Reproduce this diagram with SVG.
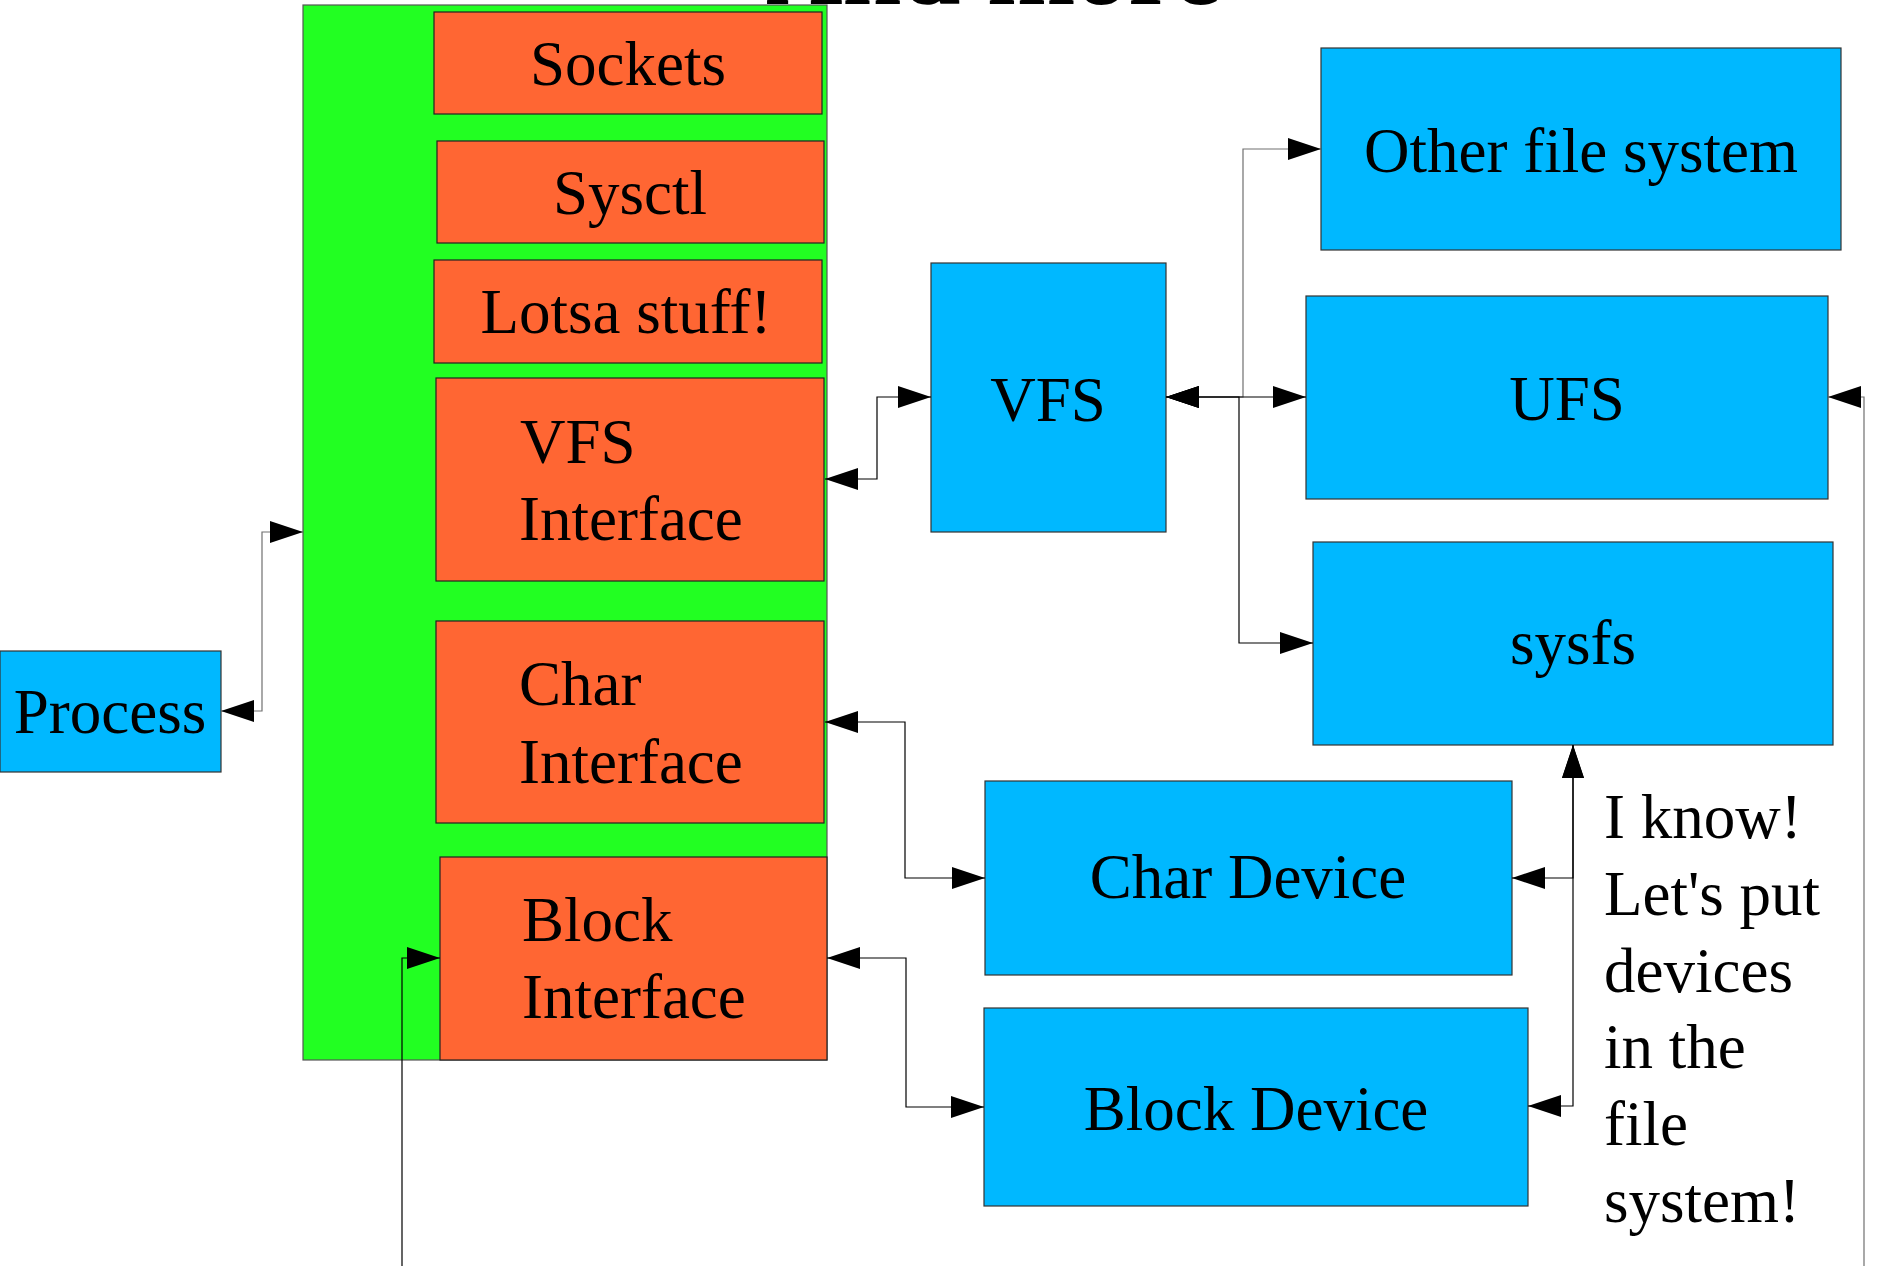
<svg xmlns="http://www.w3.org/2000/svg" width="1878" height="1266" viewBox="0 0 1878 1266">
<style>
  .bg { fill: #ffffff; }
  .green { fill: #22ff22; stroke: #555555; stroke-width: 1.2; }
  .orange { fill: #ff6633; stroke: #222222; stroke-width: 1.2; }
  .blue { fill: #00b8ff; stroke: #333333; stroke-width: 1.2; }
  .t { font-family: "Liberation Serif", "Times New Roman", serif; font-size: 63px; fill: #000000; }
  .c { text-anchor: middle; }
  .title { font-family: "Liberation Serif", "Times New Roman", serif; font-size: 106px; font-weight: bold; fill: #000000; }
  .conn { fill: none; stroke: #000000; stroke-width: 1.2; }
  .gray { stroke: #707070; }
</style>
<defs>
  <marker id="ah" markerUnits="userSpaceOnUse" markerWidth="34" markerHeight="23" refX="33" refY="11" orient="auto-start-reverse">
    <path d="M0,0 L33,11 L0,22 Z" fill="#000000"/>
  </marker>
</defs>
<rect class="bg" x="0" y="0" width="1878" height="1266"/>

<text class="title" x="766" y="4">And more</text>

<g id="kernel">
  <rect class="green" x="303" y="5" width="524" height="1055"/>
</g>
<g id="sockets">
  <rect class="orange" x="434" y="12" width="388" height="102"/>
  <text class="t c" x="628" y="85">Sockets</text>
</g>
<g id="sysctl">
  <rect class="orange" x="437" y="141" width="387" height="102"/>
  <text class="t c" x="630" y="214">Sysctl</text>
</g>
<g id="lotsa">
  <rect class="orange" x="434" y="260" width="388" height="103"/>
  <text class="t c" x="626" y="333">Lotsa stuff!</text>
</g>
<g id="vfs-interface">
  <rect class="orange" x="436" y="378" width="388" height="203"/>
  <text class="t" x="520" y="463">VFS</text>
  <text class="t" x="519" y="540">Interface</text>
</g>
<g id="char-interface">
  <rect class="orange" x="436" y="621" width="388" height="202"/>
  <text class="t" x="519" y="705">Char</text>
  <text class="t" x="519" y="783">Interface</text>
</g>
<g id="block-interface">
  <rect class="orange" x="440" y="857" width="387" height="203"/>
  <text class="t" x="522" y="941">Block</text>
  <text class="t" x="522" y="1018">Interface</text>
</g>
<g id="process">
  <rect class="blue" x="0" y="651" width="221" height="121"/>
  <text class="t c" x="110" y="733">Process</text>
</g>
<g id="vfs">
  <rect class="blue" x="931" y="263" width="235" height="269"/>
  <text class="t c" x="1048" y="421">VFS</text>
</g>
<g id="other-fs">
  <rect class="blue" x="1321" y="48" width="520" height="202"/>
  <text class="t c" x="1581" y="172">Other file system</text>
</g>
<g id="ufs">
  <rect class="blue" x="1306" y="296" width="522" height="203"/>
  <text class="t c" x="1567" y="420">UFS</text>
</g>
<g id="sysfs">
  <rect class="blue" x="1313" y="542" width="520" height="203"/>
  <text class="t c" x="1573" y="664">sysfs</text>
</g>
<g id="char-device">
  <rect class="blue" x="985" y="781" width="527" height="194"/>
  <text class="t c" x="1248" y="898">Char Device</text>
</g>
<g id="block-device">
  <rect class="blue" x="984" y="1008" width="544" height="198"/>
  <text class="t c" x="1256" y="1130">Block Device</text>
</g>
<g id="note">
  <text class="t" x="1604" y="838">I know!</text>
  <text class="t" x="1604" y="915">Let's put</text>
  <text class="t" x="1604" y="992">devices</text>
  <text class="t" x="1604" y="1068">in the</text>
  <text class="t" x="1604" y="1145">file</text>
  <text class="t" x="1604" y="1222">system!</text>
</g>

<g id="connectors">
  <path class="conn gray" d="M221,711 H262 V532 H303" marker-start="url(#ah)" marker-end="url(#ah)"/>
  <path class="conn" d="M825,479 H877 V397 H931" marker-start="url(#ah)" marker-end="url(#ah)"/>
  <path class="conn gray" d="M1166,397 H1243 V149 H1321" marker-start="url(#ah)" marker-end="url(#ah)"/>
  <path class="conn" d="M1166,397 H1306" marker-start="url(#ah)" marker-end="url(#ah)"/>
  <path class="conn" d="M1166,397 H1239 V643 H1313" marker-start="url(#ah)" marker-end="url(#ah)"/>
  <path class="conn" d="M825,722 H905 V878 H985" marker-start="url(#ah)" marker-end="url(#ah)"/>
  <path class="conn" d="M827,958 H906 V1107 H984" marker-start="url(#ah)" marker-end="url(#ah)"/>
  <path class="conn" d="M1512,878 H1573 V745" marker-start="url(#ah)" marker-end="url(#ah)"/>
  <path class="conn" d="M1528,1106 H1573 V745" marker-start="url(#ah)" marker-end="url(#ah)"/>
  <path class="conn gray" d="M1864,1266 V397 H1828" marker-end="url(#ah)"/>
  <path class="conn" d="M402,1266 V958 H440" marker-end="url(#ah)"/>
</g>
</svg>
